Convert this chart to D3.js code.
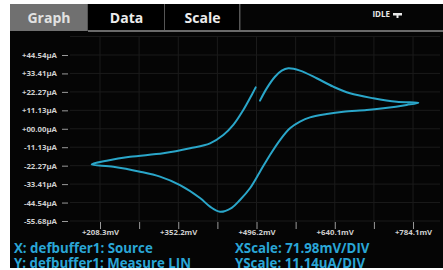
<!DOCTYPE html>
<html>
<head>
<meta charset="utf-8">
<script src="https://cdn.jsdelivr.net/npm/d3@7"></script>
<style>
  html, body { margin: 0; padding: 0; background: #fff; }
  svg { display: block; }
</style>
</head>
<body>
<div id="chart"></div>
<script>
// tabs across the top of the instrument screen
var tabNames = ["Graph", "Data", "Scale"];
var statusText = "IDLE";

// sweep: voltage (mV) and current (uA)
var voltage = [502.6, 515.0, 530.2, 542.6, 554.7, 576.2, 606.9, 637.5, 668.2, 711.1, 754.1, 793.9,
  772.5, 729.5, 698.9, 655.9, 625.3, 594.6, 576.2, 557.8, 539.4, 521.0, 502.6, 484.2,
  465.8, 450.6, 429.1, 410.7, 392.3, 355.5, 318.7, 281.9, 232.8, 193.0,
  220.6, 263.5, 324.7, 373.9, 410.7, 435.1, 453.5, 471.9, 487.4, 494.7];
var current = [17.0, 24.4, 31.4, 35.1, 36.5, 35.1, 30.5, 25.4, 21.4, 18.4, 16.3, 15.7,
  14.4, 12.4, 11.3, 10.3, 8.9, 6.9, 4.3, 0.3, -6.8, -15.8, -25.9, -35.9,
  -43.0, -47.7, -50.1, -47.0, -41.8, -34.0, -28.9, -25.9, -22.9, -21.5,
  -19.3, -16.9, -14.8, -11.8, -8.8, -3.8, 2.3, 11.3, 20.4, 25.0];

// axis ticks
var yTickValues = [44.54, 33.41, 22.27, 11.13, 0, -11.13, -22.27, -33.41, -44.54, -55.68];
var yTickLabels = ["+44.54µA", "+33.41µA", "+22.27µA", "+11.13µA", "+00.00µA",
  "-11.13µA", "-22.27µA", "-33.41µA", "-44.54µA", "-55.68µA"];
var xTickValues = [208.3, 352.2, 496.2, 640.1, 784.1];
var xTickLabels = ["+208.3mV", "+352.2mV", "+496.2mV", "+640.1mV", "+784.1mV"];
var xDiv = 71.98;

var footerLeft = ["X: defbuffer1: Source", "Y: defbuffer1: Measure LIN"];
var footerRight = ["XScale: 71.98mV/DIV", "YScale: 11.14uA/DIV"];

var W = 443, H = 270;
var svg = d3.select("#chart").append("svg").attr("width", W).attr("height", H);

// screen
svg.append("rect").attr("x", 10).attr("y", 4).attr("width", W - 10).attr("height", 264)
  .attr("fill", "#050505");

// tab bar
var tabW = [78, 77, 75];
var tx = 10;
tabNames.forEach(function (t, i) {
  svg.append("rect").attr("x", tx).attr("y", 4).attr("width", tabW[i]).attr("height", 27)
    .attr("fill", i === 0 ? "#707070" : "#000");
  svg.append("text").attr("x", tx + tabW[i] / 2).attr("y", 23)
    .attr("text-anchor", "middle")
    .attr("font-family", "Open Sans").attr("font-weight", "bold").attr("font-size", "14px")
    .attr("fill", i === 0 ? "#e2e2e2" : "#ececec").text(t);
  tx += tabW[i];
  svg.append("rect").attr("x", tx - 1).attr("y", 4).attr("width", 1.5).attr("height", 27)
    .attr("fill", "#555");
});
svg.append("rect").attr("x", 88).attr("y", 30).attr("width", W - 88).attr("height", 2)
  .attr("fill", "#6a6a6a");
svg.append("text").attr("x", 390).attr("y", 17).attr("text-anchor", "end")
  .attr("font-family", "Open Sans").attr("font-weight", "bold").attr("font-size", "8px")
  .attr("fill", "#e8e8e8").text(statusText);
svg.append("rect").attr("x", 393).attr("y", 13).attr("width", 9).attr("height", 2.5).attr("fill", "#e8e8e8");
svg.append("rect").attr("x", 396.5).attr("y", 15).attr("width", 2).attr("height", 3).attr("fill", "#e8e8e8");

// scales
var x = d3.scaleLinear().domain([208.3, 784.1]).range([100, 413]);
var y = d3.scaleLinear().domain([-55.68, 44.54]).range([221, 55]);
var divTicks = d3.range(0, 9).map(function (k) { return 208.3 + k * xDiv; });

// grid
var grid = svg.append("g").attr("stroke", "#1b1b1b").attr("stroke-width", 1);
divTicks.forEach(function (v) {
  grid.append("line").attr("x1", x(v)).attr("x2", x(v)).attr("y1", 36).attr("y2", 222);
});
yTickValues.concat([55.68]).forEach(function (v) {
  grid.append("line").attr("x1", 70).attr("x2", 440).attr("y1", y(v)).attr("y2", y(v));
});

// y axis
var yAxis = d3.axisLeft(y).tickValues(yTickValues).tickSize(6).tickPadding(5)
  .tickFormat(function (d, i) { return yTickLabels[i]; });
var gy = svg.append("g").attr("transform", "translate(68,0)").call(yAxis);
gy.select(".domain").remove();
gy.selectAll("line").attr("stroke", "#9a9a9a");
gy.selectAll("text").attr("fill", "#cfcfcf").attr("font-family", "Open Sans")
  .attr("font-size", "7.8px").attr("font-weight", "bold");

// x axis
var gx = svg.append("g").attr("transform", "translate(0,222)")
  .call(d3.axisBottom(x).tickValues(divTicks).tickSize(7).tickFormat(""));
gx.select(".domain").remove();
gx.selectAll("line").attr("stroke", "#9a9a9a");
var gxl = svg.append("g").attr("transform", "translate(0,222)")
  .call(d3.axisBottom(x).tickValues(xTickValues).tickSize(0).tickPadding(7)
    .tickFormat(function (d, i) { return xTickLabels[i]; }));
gxl.select(".domain").remove();
gxl.selectAll("text").attr("fill", "#cfcfcf").attr("font-family", "Open Sans")
  .attr("font-size", "7.8px").attr("font-weight", "bold");

// trace
var pts = voltage.map(function (v, i) { return [v, current[i]]; });
var line = d3.line()
  .x(function (d) { return x(d[0]); })
  .y(function (d) { return y(d[1]); })
  .curve(d3.curveCatmullRom.alpha(0.5));
svg.append("path").datum(pts).attr("d", line)
  .attr("fill", "none").attr("stroke", "#2aa6c9").attr("stroke-width", 2)
  .attr("stroke-linejoin", "round").attr("stroke-linecap", "round");

// footer
[0, 1].forEach(function (i) {
  svg.append("text").attr("x", 14).attr("y", 253 + i * 14.5)
    .attr("font-family", "Open Sans").attr("font-weight", "bold").attr("font-size", "13.3px")
    .attr("fill", "#2aa6d6").text(footerLeft[i]);
  svg.append("text").attr("x", 235).attr("y", 253 + i * 14.5)
    .attr("font-family", "Open Sans").attr("font-weight", "bold").attr("font-size", "13.3px")
    .attr("fill", "#2aa6d6").text(footerRight[i]);
});

// white frame edge at bottom
svg.append("rect").attr("x", 0).attr("y", 268).attr("width", W).attr("height", 2).attr("fill", "#fff");
</script>
</body>
</html>
